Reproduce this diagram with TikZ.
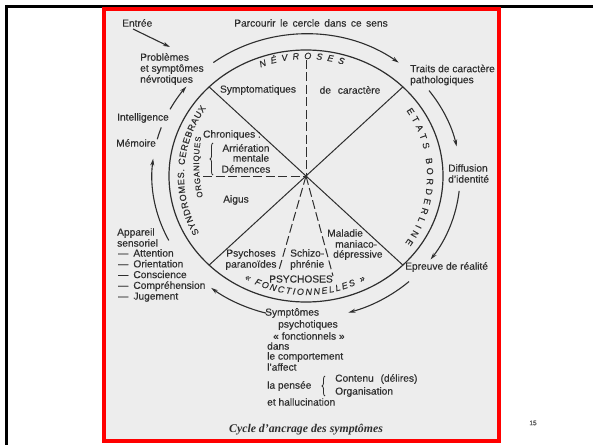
\documentclass[tikz,border=0pt]{standalone}
\usepackage{fontspec}
\setmainfont{Liberation Sans}[FakeBold=0.3]
\newfontfamily\serifbi{Liberation Serif}
\usetikzlibrary{arrows.meta,calc,decorations.text,decorations.pathreplacing,positioning}
\definecolor{ink}{gray}{0.18}
\definecolor{scan}{gray}{0.93}
\newcommand{\arcfont}{\fontsize{9}{9}\selectfont}

\begin{document}
\begin{tikzpicture}[x=1pt,y=1pt,
    txt/.style={text=ink,font=\fontsize{10.2}{11}\selectfont,inner sep=0pt},
    rule/.style={ink,line width=1pt},
    dashline/.style={ink,line width=1pt,dash pattern=on 9pt off 3.5pt},
    cycarr/.style={ink,line width=1.1pt,-{Stealth[length=7pt,width=4pt]}},
    arctext/.style={decorate,decoration={text along path,text align={fit to path},text color=ink}}]
    \useasboundingbox (0,0) rectangle (593,445);
    \fill[white] (0,0) rectangle (593,445);
    \draw[black,line width=3pt] (5,438.5) -- (593,438.5);
    \draw[black,line width=3pt] (6.5,440) -- (6.5,0);
    \fill[scan] (104,4) rectangle (499,436);
    \draw[red,line width=4pt] (104,4) rectangle (499,436);

    \coordinate (C) at (306,269);
    \draw[ink,line width=1.2pt] (C) ellipse[x radius=137,y radius=126];
    \path (C) ++(135:137 and 126) coordinate (nw);
    \path (C) ++(45:137 and 126) coordinate (ne);
    \path (C) ++(-45:137 and 126) coordinate (se);
    \path (C) ++(225:137 and 126) coordinate (sw);
    \draw[rule] (nw) -- (se);
    \draw[rule] (ne) -- (sw);

    \coordinate (vtop) at (306,385);
    \coordinate (hleft) at (203,269);
    \coordinate (dleft) at (279,175);
    \coordinate (dright) at (333,169);
    \draw[dashline] (vtop) -- (C);
    \draw[dashline] (hleft) -- (C);
    \draw[dashline] (C) -- (dleft);
    \draw[dashline] (C) -- (dright);

    \path[arctext,decoration={text={|\arcfont\itshape|NÉVROSES}}]
        (C) ++(112:121 and 117) arc[start angle=112,end angle=72,x radius=121,y radius=117];
    \path[arctext,decoration={text={|\arcfont|ETATS BORDERLINE}}]
        (C) ++(34:121 and 117) arc[start angle=34,end angle=-35,x radius=121,y radius=117];
    \path[arctext,decoration={text={|\arcfont|SYNDROMES. CEREBRAUX}}]
        (C) ++(209:122 and 118) arc[start angle=209,end angle=145,x radius=122,y radius=118];
    \coordinate (Corg) at (349,282);
    \path[arctext,decoration={text={|\fontsize{8}{9}\selectfont|ORGANIQUES}}]
        (Corg) ++(193.1:150) arc[start angle=193.1,end angle=170,radius=150];
    \path[arctext,decoration={text={|\arcfont\itshape|« FONCTIONNELLES »}}]
        (C) ++(-120:123 and 119) arc[start angle=-120,end angle=-61,x radius=123,y radius=119];

    \foreach \nom/\deb/\fin in {oA/127/53,oB/37/12,oC/-6/-36,oD/-48/-74,oE/-105/-128,oF/207/173,oH/152/141}{
        \path (C) ++(\deb:154 and 142) coordinate (\nom);
        \draw[cycarr] (\nom) arc[start angle=\deb,end angle=\fin,x radius=154,y radius=142];
    }
    \path (C) ++(165:154 and 142) coordinate (oG);
    \draw[ink,line width=1.1pt] (oG) arc[start angle=165,end angle=160,x radius=154,y radius=142];

    \node[txt,anchor=west] (entree) at (122,422) {Entrée};
    \node[txt] (parcourir) at (311,422) {\spaceskip=4.5pt Parcourir le cercle dans ce sens};
    \coordinate (entA) at (133,416);
    \coordinate (entB) at (170,398);
    \draw[cycarr] (entA) -- (entB);

    \node[txt,anchor=west,align=left] (problemes) at (140,376) {Problèmes\\et symptômes\\névrotiques};
    \node[txt,anchor=west,align=left] (traits) at (410,370) {Traits de caractère\\pathologiques};
    \node[txt,anchor=west] (intell) at (117,327) {Intelligence};
    \node[txt,anchor=west] (memoire) at (116,302) {Mémoire};
    \node[txt,anchor=west,align=left] (appareil) at (117,207.5) {Appareil\\sensoriel};
    \node[txt,anchor=west,align=left,font=\fontsize{10.2}{10.75}\selectfont] (fonctions) at (118,169.5)
        {—\hspace{5pt}Attention\\—\hspace{5pt}Orientation\\—\hspace{5pt}Conscience\\—\hspace{5pt}Compréhension\\—\hspace{5pt}Jugement};
    \node[txt,anchor=west,align=left] (diffusion) at (448,271.5) {Diffusion\\d’identité};
    \node[txt,anchor=west] (epreuve) at (405,178) {Epreuve de réalité};

    \node[txt] (sympto) at (258,355) {Symptomatiques};
    \node[txt] (decaract) at (350,355) {de\hspace{4pt} caractère};
    \node[txt] (chron) at (232,310) {Chroniques :};
    \node[txt] (arrier) at (246,297) {Arriération};
    \node[txt] (mentale) at (251,287) {mentale};
    \node[txt] (demences) at (246,276) {Démences};
    \coordinate (brA) at (213,270);
    \coordinate (brB) at (213,302);
    \draw[ink,line width=0.8pt,decorate,decoration={brace,amplitude=3pt}] (brA) -- (brB);
    \node[txt] (aigus) at (236,245) {Aigus};
    \node[txt,align=center] (paran) at (251,185.5) {Psychoses\\paranoïdes};
    \node[txt,anchor=west,align=left] (schizo) at (290,185.5) {Schizo-\\phrénie};
    \node[txt,anchor=west] (maladie) at (327,212) {Maladie};
    \node[txt,anchor=west] (maniaco) at (335,201) {maniaco-};
    \node[txt,anchor=west] (depress) at (333,190) {dépressive};
    \node[txt] (psychoses) at (301,166) {PSYCHOSES};

    \node[txt,anchor=west] (sympA) at (265,132) {Symptômes};
    \node[txt,anchor=west] (sympB) at (278,120) {psychotiques};
    \node[txt,anchor=west] (sympC) at (273,109) {« fonctionnels »};
    \node[txt,anchor=west] (dans) at (267,99) {dans};
    \node[txt,anchor=west] (comport) at (267,88) {le comportement};
    \node[txt,anchor=west] (affect) at (267,78) {l’affect};
    \node[txt,anchor=west] (pensee) at (267,59) {la pensée};
    \coordinate (brC) at (325,49);
    \coordinate (brD) at (325,69);
    \draw[ink,line width=0.8pt,decorate,decoration={brace,amplitude=3pt}] (brC) -- (brD);
    \node[txt,anchor=west] (contenu) at (335,66) {Contenu\hspace{4pt} (délires)};
    \node[txt,anchor=west] (organis) at (335,53) {Organisation};
    \node[txt,anchor=west] (halluc) at (267,43) {et hallucination};

    \node[text=ink,font=\serifbi\bfseries\itshape\fontsize{11.8}{13}\selectfont] (cycle) at (306,15) {Cycle d’ancrage des symptômes};
    \node[text=black!70,font=\fontsize{6.5}{7}\selectfont] (pagenum) at (533,22) {15};
\end{tikzpicture}
\end{document}
